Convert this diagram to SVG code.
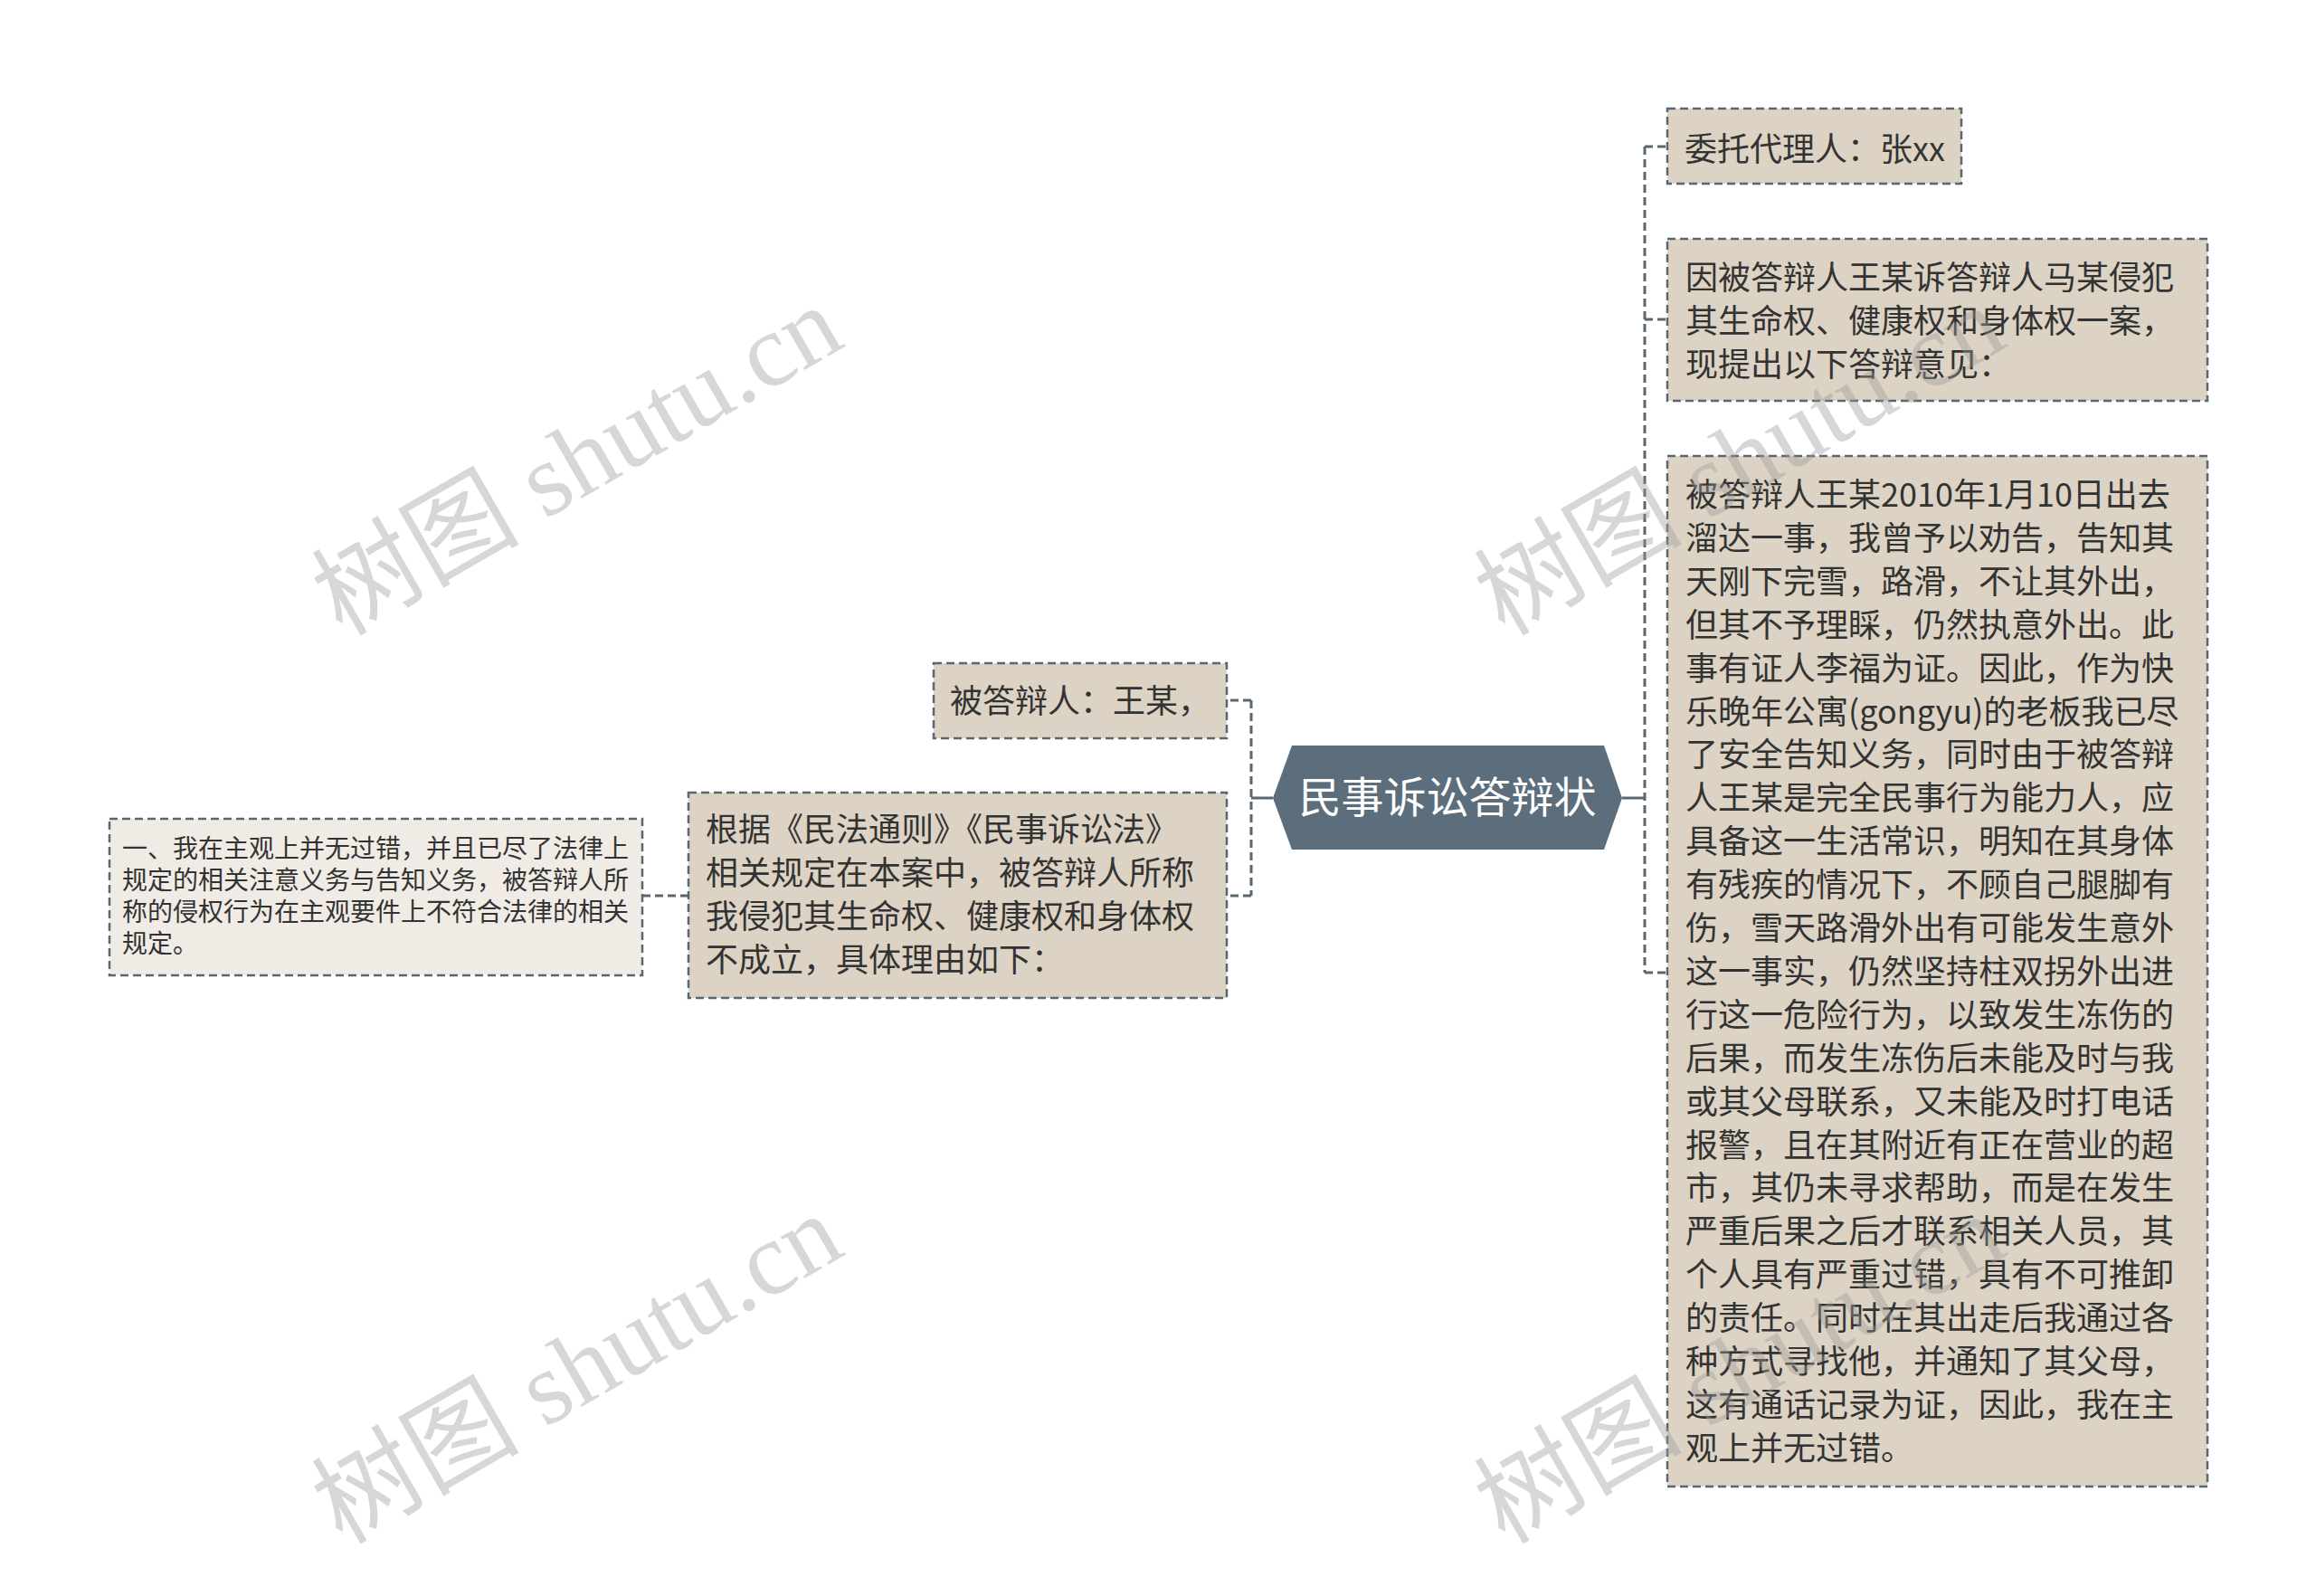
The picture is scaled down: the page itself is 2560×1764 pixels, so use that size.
<svg xmlns="http://www.w3.org/2000/svg" width="2560" height="1764" viewBox="0 0 2560 1764">
<style>
.node{fill:#ddd3c4;stroke:#596771;stroke-width:2.5;stroke-dasharray:9 5}
.light{fill:#f0ece5}
.t{font-family:"Noto Sans CJK SC","Noto Sans",sans-serif;font-size:36px;fill:#333333}
.ts{font-size:28px}
.conn{fill:none;stroke:#596771;stroke-width:3;stroke-dasharray:9 5}
.solid{fill:none;stroke:#596771;stroke-width:3}
.wm{font-family:"Liberation Serif","Noto Sans CJK SC",serif;font-size:115px;fill:#9a9a9a;fill-opacity:0.4}
</style>
<rect width="2560" height="1764" fill="#ffffff"/>
<g id="connectors">
<path class="solid" d="M1793 882 H1818"/>
<path class="conn" d="M1818 162 V1075"/>
<path class="conn" d="M1818 162 H1843 M1818 353 H1843 M1818 1075 H1843"/>
<path class="solid" d="M1407 882 H1383"/>
<path class="conn" d="M1383 774 V990"/>
<path class="conn" d="M1383 774 H1356 M1383 990 H1356"/>
<path class="conn" d="M761 990 H710"/>
</g>
<g id="root">
<polygon points="1407,882 1428,824 1773,824 1793,882 1773,939 1428,939" fill="#5c6e7b"/>
<text x="1600" y="898" text-anchor="middle" font-family="'Noto Sans CJK SC',sans-serif" font-size="47" fill="#ffffff">民事诉讼答辩状</text>
</g>
<g id="n1">
<rect class="node" x="1843" y="120" width="325" height="83"/>
<text class="t" x="1862" y="178">委托代理人：张xx</text>
</g>
<g id="n2">
<rect class="node" x="1843" y="264" width="597" height="179"/>
<text class="t" x="1863" y="320">因被答辩人王某诉答辩人马某侵犯</text>
<text class="t" x="1863" y="368">其生命权、健康权和身体权一案，</text>
<text class="t" x="1863" y="416">现提出以下答辩意见：</text>
</g>
<g id="n3">
<rect class="node" x="1843" y="504" width="597" height="1139"/>
<text class="t" x="1863" y="560">被答辩人王某2010年1月10日出去</text>
<text class="t" x="1863" y="607.9">溜达一事，我曾予以劝告，告知其</text>
<text class="t" x="1863" y="655.8">天刚下完雪，路滑，不让其外出，</text>
<text class="t" x="1863" y="703.7">但其不予理睬，仍然执意外出。此</text>
<text class="t" x="1863" y="751.6">事有证人李福为证。因此，作为快</text>
<text class="t" x="1863" y="799.5">乐晚年公寓(gongyu)的老板我已尽</text>
<text class="t" x="1863" y="847.4">了安全告知义务，同时由于被答辩</text>
<text class="t" x="1863" y="895.3">人王某是完全民事行为能力人，应</text>
<text class="t" x="1863" y="943.2">具备这一生活常识，明知在其身体</text>
<text class="t" x="1863" y="991.1">有残疾的情况下，不顾自己腿脚有</text>
<text class="t" x="1863" y="1039">伤，雪天路滑外出有可能发生意外</text>
<text class="t" x="1863" y="1086.9">这一事实，仍然坚持柱双拐外出进</text>
<text class="t" x="1863" y="1134.8">行这一危险行为，以致发生冻伤的</text>
<text class="t" x="1863" y="1182.7">后果，而发生冻伤后未能及时与我</text>
<text class="t" x="1863" y="1230.6">或其父母联系，又未能及时打电话</text>
<text class="t" x="1863" y="1278.5">报警，且在其附近有正在营业的超</text>
<text class="t" x="1863" y="1326.4">市，其仍未寻求帮助，而是在发生</text>
<text class="t" x="1863" y="1374.3">严重后果之后才联系相关人员，其</text>
<text class="t" x="1863" y="1422.2">个人具有严重过错，具有不可推卸</text>
<text class="t" x="1863" y="1470.1">的责任。同时在其出走后我通过各</text>
<text class="t" x="1863" y="1518">种方式寻找他，并通知了其父母，</text>
<text class="t" x="1863" y="1565.9">这有通话记录为证，因此，我在主</text>
<text class="t" x="1863" y="1613.8">观上并无过错。</text>
</g>
<g id="n4">
<rect class="node" x="1032" y="733" width="324" height="83"/>
<text class="t" x="1050" y="788">被答辩人：王某，</text>
</g>
<g id="n5">
<rect class="node" x="761" y="876" width="595" height="227"/>
<text class="t" x="780" y="930">根据《民法通则》《民事诉讼法》</text>
<text class="t" x="780" y="978">相关规定在本案中，被答辩人所称</text>
<text class="t" x="780" y="1026">我侵犯其生命权、健康权和身体权</text>
<text class="t" x="780" y="1074">不成立，具体理由如下：</text>
</g>
<g id="n6">
<rect class="node light" x="121" y="905" width="589" height="173"/>
<text class="t ts" x="135" y="948">一、我在主观上并无过错，并且已尽了法律上</text>
<text class="t ts" x="135" y="983">规定的相关注意义务与告知义务，被答辩人所</text>
<text class="t ts" x="135" y="1018">称的侵权行为在主观要件上不符合法律的相关</text>
<text class="t ts" x="135" y="1053">规定。</text>
</g>
<g id="watermarks">
<text class="wm" transform="translate(378,704) rotate(-30)">树图 shutu.cn</text>
<text class="wm" transform="translate(378,1708) rotate(-30)">树图 shutu.cn</text>
<text class="wm" transform="translate(1663,704) rotate(-30)">树图 shutu.cn</text>
<text class="wm" transform="translate(1663,1708) rotate(-30)">树图 shutu.cn</text>
</g>
</svg>
